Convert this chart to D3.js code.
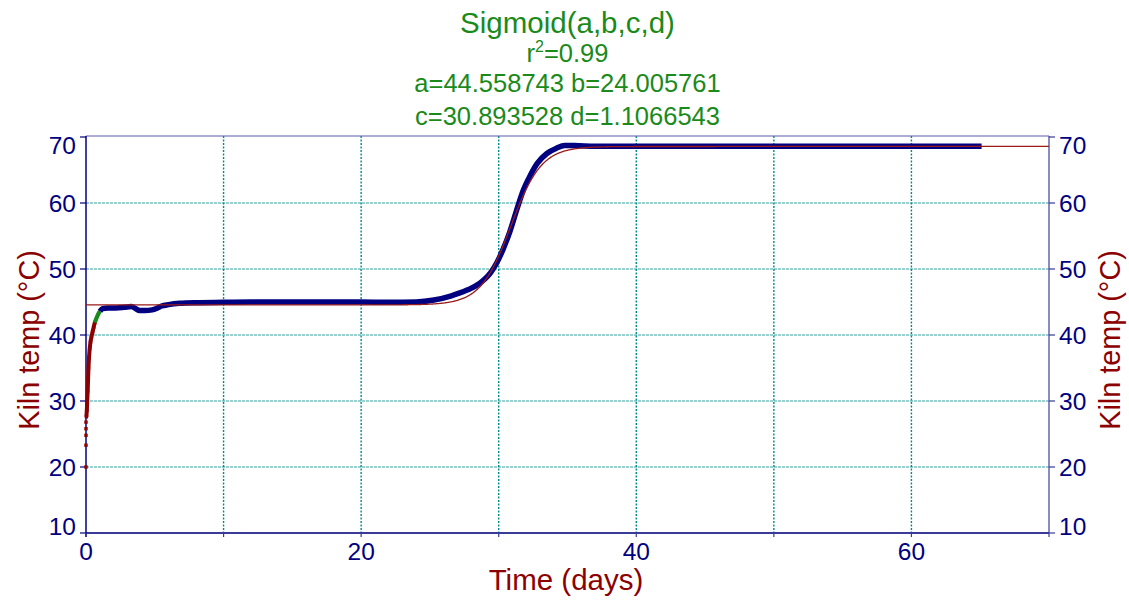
<!DOCTYPE html>
<html>
<head>
<meta charset="utf-8">
<script src="https://cdn.jsdelivr.net/npm/d3@7"></script>
<style>
  html, body { margin: 0; padding: 0; background: #fff; }
  svg { display: block; font-family: "Liberation Sans", Arial, sans-serif; }
</style>
</head>
<body>
<svg id="chart" width="1129" height="601"></svg>
<script>
// Fitted sigmoid parameters: y = a + b / (1 + exp(-(x - c) / d))
const fitA = 44.558743, fitB = 24.005761, fitC = 30.893528, fitD = 1.1066543;
const fitR2 = "0.99";

// Measured kiln temperature, split by marker colour
const warmupDays = [0, 0, 0, 0, 0, 0.03, 0.06, 0.09, 0.12, 0.15, 0.18, 0.22, 0.27, 0.33, 0.4, 0.48, 0.56, 0.64];
const warmupTemp = [20.0, 23.3, 24.8, 25.8, 26.8, 27.6, 28.6, 30.0, 31.5, 33.2, 35.0, 36.6, 38.0, 39.0, 39.8, 40.5, 41.2, 41.9];

const transDays = [0.64, 0.75, 0.85, 0.95, 1.02];
const transTemp = [41.9, 42.5, 43.0, 43.4, 43.6];

const runDays = [1.02, 1.2, 1.6, 2.2, 2.8, 3.3, 3.6, 3.9, 4.3, 4.8, 5.2, 5.5, 6.0, 6.8, 8.0, 10, 12, 14, 16, 18, 20, 22, 24, 25.3, 26.5, 27.7, 28.6, 29.4, 29.85, 30.3, 30.8, 31.3, 31.8, 32.3, 32.8, 33.5, 34.2, 34.8, 35.5, 37, 40, 45, 50, 55, 60, 65.1];
const runTemp = [43.6, 44.0, 44.1, 44.1, 44.2, 44.3, 44.0, 43.7, 43.7, 43.8, 44.1, 44.4, 44.6, 44.8, 44.9, 44.95, 45.0, 45.0, 45.0, 45.0, 45.0, 44.95, 45.0, 45.3, 45.9, 46.8, 47.8, 49.4, 50.9, 52.9, 55.6, 58.9, 62.0, 64.2, 66.0, 67.5, 68.3, 68.7, 68.7, 68.6, 68.6, 68.6, 68.6, 68.6, 68.6, 68.6];

// Axis ticks
const xTicks = [0, 10, 20, 30, 40, 50, 60, 70];
const xTickLabels = [0, 20, 40, 60];
const yTicks = [10, 20, 30, 40, 50, 60, 70];
const yGrid = [20, 30, 40, 50, 60];

const titleLines = ["a=44.558743 b=24.005761", "c=30.893528 d=1.1066543"];

const svg = d3.select("#chart");
const plot = { left: 86, right: 1049, top: 136, bottom: 533 };

const x = d3.scaleLinear().domain([0, 70]).range([plot.left, plot.right]);
const y = d3.scaleLinear().domain([10, 70]).range([plot.bottom, 137]);

const navy = "#000080", darkRed = "#8b0000", green = "#1a8a1a", teal = "#008b8b";

// Grid
svg.append("g").selectAll("line").data(yGrid).join("line")
  .attr("x1", plot.left).attr("x2", plot.right)
  .attr("y1", d => y(d)).attr("y2", d => y(d))
  .attr("stroke", teal).attr("stroke-width", 1.2).attr("stroke-opacity", 0.8)
  .attr("stroke-dasharray", "3,1");
svg.append("g").selectAll("line").data(xTicks.filter(d => d > 0 && d < 70)).join("line")
  .attr("x1", d => x(d)).attr("x2", d => x(d))
  .attr("y1", plot.top).attr("y2", plot.bottom)
  .attr("stroke", teal).attr("stroke-width", 1.4)
  .attr("stroke-dasharray", "2,1.5");

// Frame
svg.append("line").attr("x1", plot.left).attr("x2", plot.right).attr("y1", plot.top).attr("y2", plot.top)
  .attr("stroke", "#5a5aaa").attr("stroke-width", 1.2);
svg.append("line").attr("x1", plot.right).attr("x2", plot.right).attr("y1", plot.top).attr("y2", plot.bottom)
  .attr("stroke", "#5a5aaa").attr("stroke-width", 1.4);
svg.append("line").attr("x1", plot.left).attr("x2", plot.right).attr("y1", plot.bottom).attr("y2", plot.bottom)
  .attr("stroke", "#3a3a9a").attr("stroke-width", 1.8);
svg.append("line").attr("x1", plot.left).attr("x2", plot.left).attr("y1", plot.top).attr("y2", plot.bottom + 4)
  .attr("stroke", navy).attr("stroke-width", 1.5);

// Tick marks
svg.append("g").selectAll("line").data(yTicks).join("line")
  .attr("x1", plot.left - 6).attr("x2", plot.left)
  .attr("y1", d => y(d)).attr("y2", d => y(d))
  .attr("stroke", navy).attr("stroke-width", 1.2);
svg.append("g").selectAll("line").data(yTicks).join("line")
  .attr("x1", plot.right).attr("x2", plot.right + 6)
  .attr("y1", d => y(d)).attr("y2", d => y(d))
  .attr("stroke", "#3a3a9a").attr("stroke-width", 1.2);
svg.append("g").selectAll("line").data(xTicks).join("line")
  .attr("x1", d => x(d)).attr("x2", d => x(d))
  .attr("y1", plot.bottom).attr("y2", plot.bottom + 4)
  .attr("stroke", "#3a3a9a").attr("stroke-width", 1.2);

// Tick labels
const labelShift = d => d === 70 ? 8 : (d === 10 ? -7 : 0);
svg.append("g").selectAll("text").data(yTicks).join("text")
  .attr("x", 76).attr("y", d => y(d) + labelShift(d) + 8.8)
  .attr("text-anchor", "end").attr("font-size", 24.5).attr("fill", navy)
  .text(d => d);
svg.append("g").selectAll("text").data(yTicks).join("text")
  .attr("x", 1059).attr("y", d => y(d) + labelShift(d) + 8.8)
  .attr("text-anchor", "start").attr("font-size", 24.5).attr("fill", navy)
  .text(d => d);
svg.append("g").selectAll("text").data(xTickLabels).join("text")
  .attr("x", d => x(d)).attr("y", 560)
  .attr("text-anchor", "middle").attr("font-size", 24.5).attr("fill", navy)
  .text(d => d);

// Axis titles
svg.append("text").attr("x", 566).attr("y", 590)
  .attr("text-anchor", "middle").attr("font-size", 29.5).attr("fill", darkRed)
  .text("Time (days)");
svg.append("text").attr("transform", "translate(39,340) rotate(-90)")
  .attr("text-anchor", "middle").attr("font-size", 28.8).attr("fill", darkRed)
  .text("Kiln temp (°C)");
svg.append("text").attr("transform", "translate(1120,340) rotate(-90)")
  .attr("text-anchor", "middle").attr("font-size", 28.8).attr("fill", darkRed)
  .text("Kiln temp (°C)");

// Title block
const cx = (plot.left + plot.right) / 2;
svg.append("text").attr("x", cx).attr("y", 33)
  .attr("text-anchor", "middle").attr("font-size", 29.5).attr("fill", green)
  .text("Sigmoid(a,b,c,d)");
const r2 = svg.append("text").attr("x", cx).attr("y", 62)
  .attr("text-anchor", "middle").attr("font-size", 25.5).attr("fill", green);
r2.append("tspan").text("r");
r2.append("tspan").attr("font-size", 16).attr("dy", -10).text("2");
r2.append("tspan").attr("dy", 10).text("=" + fitR2);
svg.append("g").selectAll("text").data(titleLines).join("text")
  .attr("x", cx).attr("y", (d, i) => 92 + i * 33)
  .attr("text-anchor", "middle").attr("font-size", 25.5).attr("fill", green)
  .text(d => d);

// Fitted curve from the stated parameters
const sigmoid = t => fitA + fitB / (1 + Math.exp(-(t - fitC) / fitD));
const fitDays = d3.range(0, 70.001, 0.05);
const line = d3.line().x(d => x(d[0])).y(d => y(d[1]));

// Measured series
const zip = (xs, ys) => xs.map((v, i) => [v, ys[i]]);
const warm = zip(warmupDays, warmupTemp);
svg.append("g").selectAll("rect").data(warm).join("rect")
  .attr("x", d => x(d[0]) - 1.7).attr("y", d => y(d[1]) - 1.7)
  .attr("width", 3.4).attr("height", 3.4).attr("fill", darkRed);
svg.append("path").datum(warm.slice(5))
  .attr("d", line).attr("fill", "none").attr("stroke", darkRed)
  .attr("stroke-width", 4).attr("stroke-linejoin", "round");
svg.append("path").datum(zip(transDays, transTemp))
  .attr("d", line).attr("fill", "none").attr("stroke", green)
  .attr("stroke-width", 4.2).attr("stroke-linejoin", "round");
svg.append("path").datum(zip(runDays, runTemp))
  .attr("d", line.curve(d3.curveMonotoneX)).attr("fill", "none").attr("stroke", navy)
  .attr("stroke-width", 5.5).attr("stroke-linejoin", "round");

svg.append("path").datum(fitDays.map(t => [t, sigmoid(t)]))
  .attr("d", d3.line().x(d => x(d[0])).y(d => y(d[1])))
  .attr("fill", "none").attr("stroke", "#9a1a1a").attr("stroke-width", 1.3);
</script>
</body>
</html>
